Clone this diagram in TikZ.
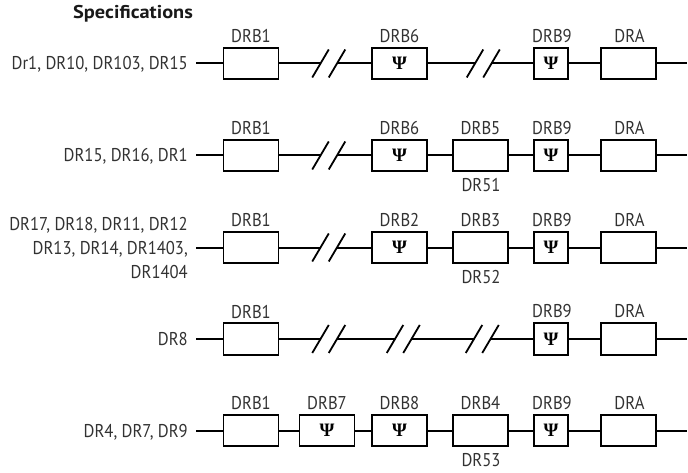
\documentclass[tikz,border=0pt]{standalone}
\usepackage{graphicx}
\usepackage{fontspec}
\setmainfont[FakeStretch=0.9]{PT Sans}
\newfontfamily\titlefont[FakeStretch=1.0]{PT Sans}
\newfontfamily\psifont{Liberation Serif}
\definecolor{txt}{RGB}{50,50,50}
\tikzset{
  wire/.style={line width=2pt, black},
  slash/.style={line width=1.8pt, black},
  wbox/.style={draw=black, line width=1.6pt, minimum width=55pt, minimum height=31.5pt, inner sep=0pt, fill=white},
  sbox/.style={wbox, minimum width=34pt},
  psi/.style={font=\psifont\bfseries\fontsize{19}{20}\selectfont},
  lbl/.style={text=txt, inner sep=0pt, font=\fontsize{18.5}{22}\selectfont},
}
\newcommand\mybreak[3]{%
  \coordinate (#1a) at (#2,#3);
  \coordinate (#1b) at (#2+16.5,#3);
  \draw[slash] (#1a) ++(-8.25,14) -- ++(16.5,-28);
  \draw[slash] (#1b) ++(-8.25,14) -- ++(16.5,-28);
}
\begin{document}
\begin{tikzpicture}[x=1pt,y=-1pt]
\useasboundingbox (0,0) rectangle (688,473);
\node[lbl, anchor=base west, font=\titlefont\bfseries\fontsize{18.5}{22}\selectfont, text=black!90] (title) at (73,18.5) {\scalebox{1.1}[1]{Specifications}};

% ---------- Row 1 ----------
\def\yy{63.5}
\node[lbl, anchor=base east] (r1l) at (188,\yy+6.5) {Dr1, DR10, DR103, DR15};
\coordinate (r1s) at (196,\yy);
\coordinate (r1e) at (687,\yy);
\node[wbox] (r1b1) at (251,\yy) {};
\node[wbox, psi] (r1b6) at (399.5,\yy) {Ψ};
\node[sbox, psi] (r1b9) at (551,\yy) {Ψ};
\node[wbox] (r1a) at (628.5,\yy) {};
\node[lbl] (r1t1) at (251,\yy-27.5) {DRB1};
\node[lbl] (r1t6) at (399.5,\yy-27.5) {DRB6};
\node[lbl] (r1t9) at (552,\yy-27.5) {DRB9};
\node[lbl] (r1ta) at (629.5,\yy-27.5) {DRA};
\mybreak{r1A}{320.5}{\yy}
\mybreak{r1B}{475}{\yy}
\draw[wire] (r1s) -- (r1b1.west);
\draw[wire] (r1b1.east) -- (r1Aa);
\draw[wire] (r1Ab) -- (r1b6.west);
\draw[wire] (r1b6.east) -- (r1Ba);
\draw[wire] (r1Bb) -- (r1b9.west);
\draw[wire] (r1b9.east) -- (r1a.west);
\draw[wire] (r1a.east) -- (r1e);

% ---------- Row 2 ----------
\def\yy{155.5}
\node[lbl, anchor=base east] (r2l) at (188,\yy+6.5) {DR15, DR16, DR1};
\coordinate (r2s) at (196,\yy);
\coordinate (r2e) at (687,\yy);
\node[wbox] (r2b1) at (251,\yy) {};
\node[wbox, psi] (r2b6) at (399.5,\yy) {Ψ};
\node[wbox] (r2b5) at (480.5,\yy) {};
\node[sbox, psi] (r2b9) at (551,\yy) {Ψ};
\node[wbox] (r2a) at (628.5,\yy) {};
\node[lbl] (r2t1) at (251,\yy-27.5) {DRB1};
\node[lbl] (r2t6) at (399.5,\yy-27.5) {DRB6};
\node[lbl] (r2t5) at (480.5,\yy-27.5) {DRB5};
\node[lbl] (r2t9) at (552,\yy-27.5) {DRB9};
\node[lbl] (r2ta) at (629.5,\yy-27.5) {DRA};
\node[lbl] (r2u5) at (481,\yy+30) {DR51};
\mybreak{r2A}{320.5}{\yy}
\draw[wire] (r2s) -- (r2b1.west);
\draw[wire] (r2b1.east) -- (r2Aa);
\draw[wire] (r2Ab) -- (r2b6.west);
\draw[wire] (r2b6.east) -- (r2b5.west);
\draw[wire] (r2b5.east) -- (r2b9.west);
\draw[wire] (r2b9.east) -- (r2a.west);
\draw[wire] (r2a.east) -- (r2e);

% ---------- Row 3 ----------
\def\yy{247.5}
\node[lbl, anchor=base east] (r3l1) at (188,230) {DR17, DR18, DR11, DR12};
\node[lbl, anchor=base east] (r3l2) at (188,254.5) {DR13, DR14, DR1403,};
\node[lbl, anchor=base east] (r3l3) at (188,278.5) {DR1404};
\coordinate (r3s) at (196,\yy);
\coordinate (r3e) at (687,\yy);
\node[wbox] (r3b1) at (251,\yy) {};
\node[wbox, psi] (r3b2) at (399.5,\yy) {Ψ};
\node[wbox] (r3b3) at (480.5,\yy) {};
\node[sbox, psi] (r3b9) at (551,\yy) {Ψ};
\node[wbox] (r3a) at (628.5,\yy) {};
\node[lbl] (r3t1) at (251,\yy-27.5) {DRB1};
\node[lbl] (r3t2) at (399.5,\yy-27.5) {DRB2};
\node[lbl] (r3t3) at (480.5,\yy-27.5) {DRB3};
\node[lbl] (r3t9) at (552,\yy-27.5) {DRB9};
\node[lbl] (r3ta) at (629.5,\yy-27.5) {DRA};
\node[lbl] (r3u3) at (481,\yy+30) {DR52};
\mybreak{r3A}{320.5}{\yy}
\draw[wire] (r3s) -- (r3b1.west);
\draw[wire] (r3b1.east) -- (r3Aa);
\draw[wire] (r3Ab) -- (r3b2.west);
\draw[wire] (r3b2.east) -- (r3b3.west);
\draw[wire] (r3b3.east) -- (r3b9.west);
\draw[wire] (r3b9.east) -- (r3a.west);
\draw[wire] (r3a.east) -- (r3e);

% ---------- Row 4 ----------
\def\yy{339}
\node[lbl, anchor=base east] (r4l) at (188,\yy+6.5) {DR8};
\coordinate (r4s) at (196,\yy);
\coordinate (r4e) at (687,\yy);
\node[wbox] (r4b1) at (251,\yy) {};
\node[sbox, psi] (r4b9) at (551,\yy) {Ψ};
\node[wbox] (r4a) at (628.5,\yy) {};
\node[lbl] (r4t1) at (251,\yy-27.5) {DRB1};
\node[lbl] (r4t9) at (552,\yy-27.5) {DRB9};
\node[lbl] (r4ta) at (629.5,\yy-27.5) {DRA};
\mybreak{r4A}{320.5}{\yy}
\mybreak{r4B}{395}{\yy}
\mybreak{r4C}{474}{\yy}
\draw[wire] (r4s) -- (r4b1.west);
\draw[wire] (r4b1.east) -- (r4Aa);
\draw[wire] (r4Ab) -- (r4Ba);
\draw[wire] (r4Bb) -- (r4Ca);
\draw[wire] (r4Cb) -- (r4b9.west);
\draw[wire] (r4b9.east) -- (r4a.west);
\draw[wire] (r4a.east) -- (r4e);

% ---------- Row 5 ----------
\def\yy{430.5}
\node[lbl, anchor=base east] (r5l) at (188,\yy+6.5) {DR4, DR7, DR9};
\coordinate (r5s) at (196,\yy);
\coordinate (r5e) at (687,\yy);
\node[wbox] (r5b1) at (251,\yy) {};
\node[wbox, psi] (r5b7) at (327,\yy) {Ψ};
\node[wbox, psi] (r5b8) at (399.5,\yy) {Ψ};
\node[wbox] (r5b4) at (480.5,\yy) {};
\node[sbox, psi] (r5b9) at (551,\yy) {Ψ};
\node[wbox] (r5a) at (628.5,\yy) {};
\node[lbl] (r5t1) at (251,\yy-27.5) {DRB1};
\node[lbl] (r5t7) at (327,\yy-27.5) {DRB7};
\node[lbl] (r5t8) at (399.5,\yy-27.5) {DRB8};
\node[lbl] (r5t4) at (480.5,\yy-27.5) {DRB4};
\node[lbl] (r5t9) at (552,\yy-27.5) {DRB9};
\node[lbl] (r5ta) at (629.5,\yy-27.5) {DRA};
\node[lbl] (r5u4) at (481,\yy+30) {DR53};
\draw[wire] (r5s) -- (r5b1.west);
\draw[wire] (r5b1.east) -- (r5b7.west);
\draw[wire] (r5b7.east) -- (r5b8.west);
\draw[wire] (r5b8.east) -- (r5b4.west);
\draw[wire] (r5b4.east) -- (r5b9.west);
\draw[wire] (r5b9.east) -- (r5a.west);
\draw[wire] (r5a.east) -- (r5e);
\end{tikzpicture}
\end{document}
